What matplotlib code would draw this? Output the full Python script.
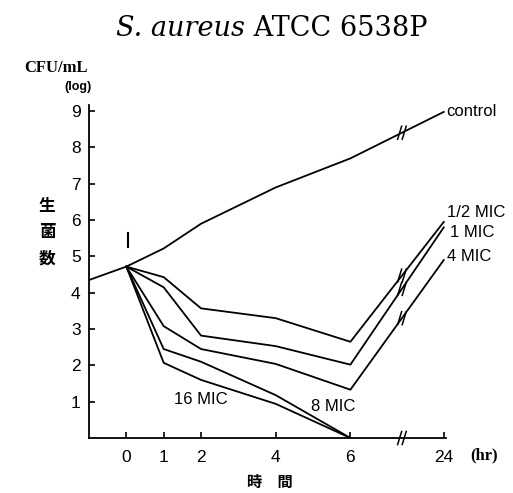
import numpy as np
import matplotlib
matplotlib.use("Agg")
import matplotlib.pyplot as plt

# ---- data ----
times = [0, 1, 2, 4, 6, 24]
tick_labels = ["0", "1", "2", "4", "6", "24"]
control_pre_t = -1
control_pre_v = 4.35
control = [4.72, 5.22, 5.9, 6.9, 7.7, 8.98]
mic_half = [4.72, 4.43, 3.57, 3.3, 2.65, 5.95]
mic_1 = [4.72, 4.15, 2.82, 2.53, 2.02, 5.8]
mic_4 = [4.72, 3.08, 2.45, 2.04, 1.33, 4.9]
mic_8 = [4.72, 2.45, 2.1, 1.18, 0.0]
mic_16 = [4.72, 2.07, 1.6, 0.94, 0.0]

# position of the broken 24 h point on the x-axis
pos24 = 8.5
break_pos = 7.38

def xpos(t):
    return [pos24 if v == 24 else v for v in t]

plt.rcParams['font.family'] = ['Liberation Sans Narrow', 'Liberation Sans', 'DejaVu Sans']

fig = plt.figure(figsize=(5.13, 4.93), dpi=100)
ax = fig.add_axes([89/513, 1-438/493, (446-89)/513, (438-105)/493])
ax.set_xlim(-1, 8.56)
ax.set_ylim(0, 9.17)

lw = 1.3
k = 'black'
ax.plot([control_pre_t] + xpos(times), [control_pre_v] + control, color=k, lw=lw)
for s in (mic_half, mic_1, mic_4):
    ax.plot(xpos(times), s, color=k, lw=lw)
for s in (mic_8, mic_16):
    ax.plot(times[:5], s, color=k, lw=lw)

# break marks (drawn as two short slanted strokes, in pixel offsets)
def brk(x, y):
    p = ax.transData.transform((x, y))
    inv = ax.transData.inverted()
    for off in (-2.3, 2.3):
        p0 = p + np.array([off - 2.0, -6.5])
        p1 = p + np.array([off + 2.0, 6.5])
        q0, q1 = inv.transform(p0), inv.transform(p1)
        ax.plot([q0[0], q1[0]], [q0[1], q1[1]], color=k, lw=1.1, clip_on=False)

for s in (control, mic_half, mic_1, mic_4):
    y = np.interp(break_pos, [6, pos24], [s[4], s[5]])
    brk(break_pos, y)
brk(break_pos, 0)

for sp in ('top', 'right'):
    ax.spines[sp].set_visible(False)
for sp in ('left', 'bottom'):
    ax.spines[sp].set_linewidth(1.3)
ax.set_xticks(xpos(times))
ax.set_xticklabels(tick_labels, fontsize=12.5)
ax.set_yticks(range(1, 10))
ax.set_yticklabels([str(i) for i in range(1, 10)], fontsize=12.5)
ax.tick_params(direction='in', length=4, width=1.2, pad=9)
ax.tick_params(axis='y', pad=6)

# annotations
ax.plot([0.05, 0.05], [5.25, 5.65], color=k, lw=1.5)
ax.text(2.0, 1.05, "16 MIC", fontsize=12, ha='center', va='center')
ax.text(5.55, 0.88, "8 MIC", fontsize=12, ha='center', va='center')
ax.text(pos24 + 0.06, 9.0, "control", fontsize=12, ha='left', va='center')
ax.text(pos24 + 0.1, 6.2, "1/2 MIC", fontsize=12, ha='left', va='center')
ax.text(pos24 + 0.16, 5.65, "1 MIC", fontsize=12, ha='left', va='center')
ax.text(pos24 + 0.1, 5.0, "4 MIC", fontsize=12, ha='left', va='center')

serif = ['DejaVu Serif']
cjk = ['Noto Sans CJK JP', 'DejaVu Sans']

# title: italic species name + roman strain, centred together
renderer = fig.canvas.get_renderer()
t1 = fig.text(0, 1-29/493, "S. aureus", fontsize=19.5, style='italic', family=serif,
              ha='left', va='center')
t2 = fig.text(0, 1-29/493, " ATCC 6538P", fontsize=19.5, family=serif,
              ha='left', va='center')
w1 = t1.get_window_extent(renderer).width
w2 = t2.get_window_extent(renderer).width
x0 = (272 - (w1 + w2) / 2)
t1.set_x(x0 / 513)
t2.set_x((x0 + w1) / 513)

fig.text(24/513, 1-68/493, "CFU/mL", fontsize=12, ha='left', va='center',
         family=['Liberation Serif'], weight='bold')
fig.text(78/513, 1-87/493, "(log)", fontsize=9, ha='center', va='center', weight='bold')
fig.text(47/513, 1-232/493, "生\n菌\n数", fontsize=12, ha='center', va='center',
         family=cjk, weight='bold', linespacing=1.6)
fig.text(270/513, 1-482/493, "時　間", fontsize=11, ha='center', va='center', family=cjk, weight='bold')
fig.text(484/513, 1-455/493, "(hr)", fontsize=12, ha='center', va='center',
         family=['Liberation Serif'], weight='bold')

fig.savefig("out.png", dpi=100)
